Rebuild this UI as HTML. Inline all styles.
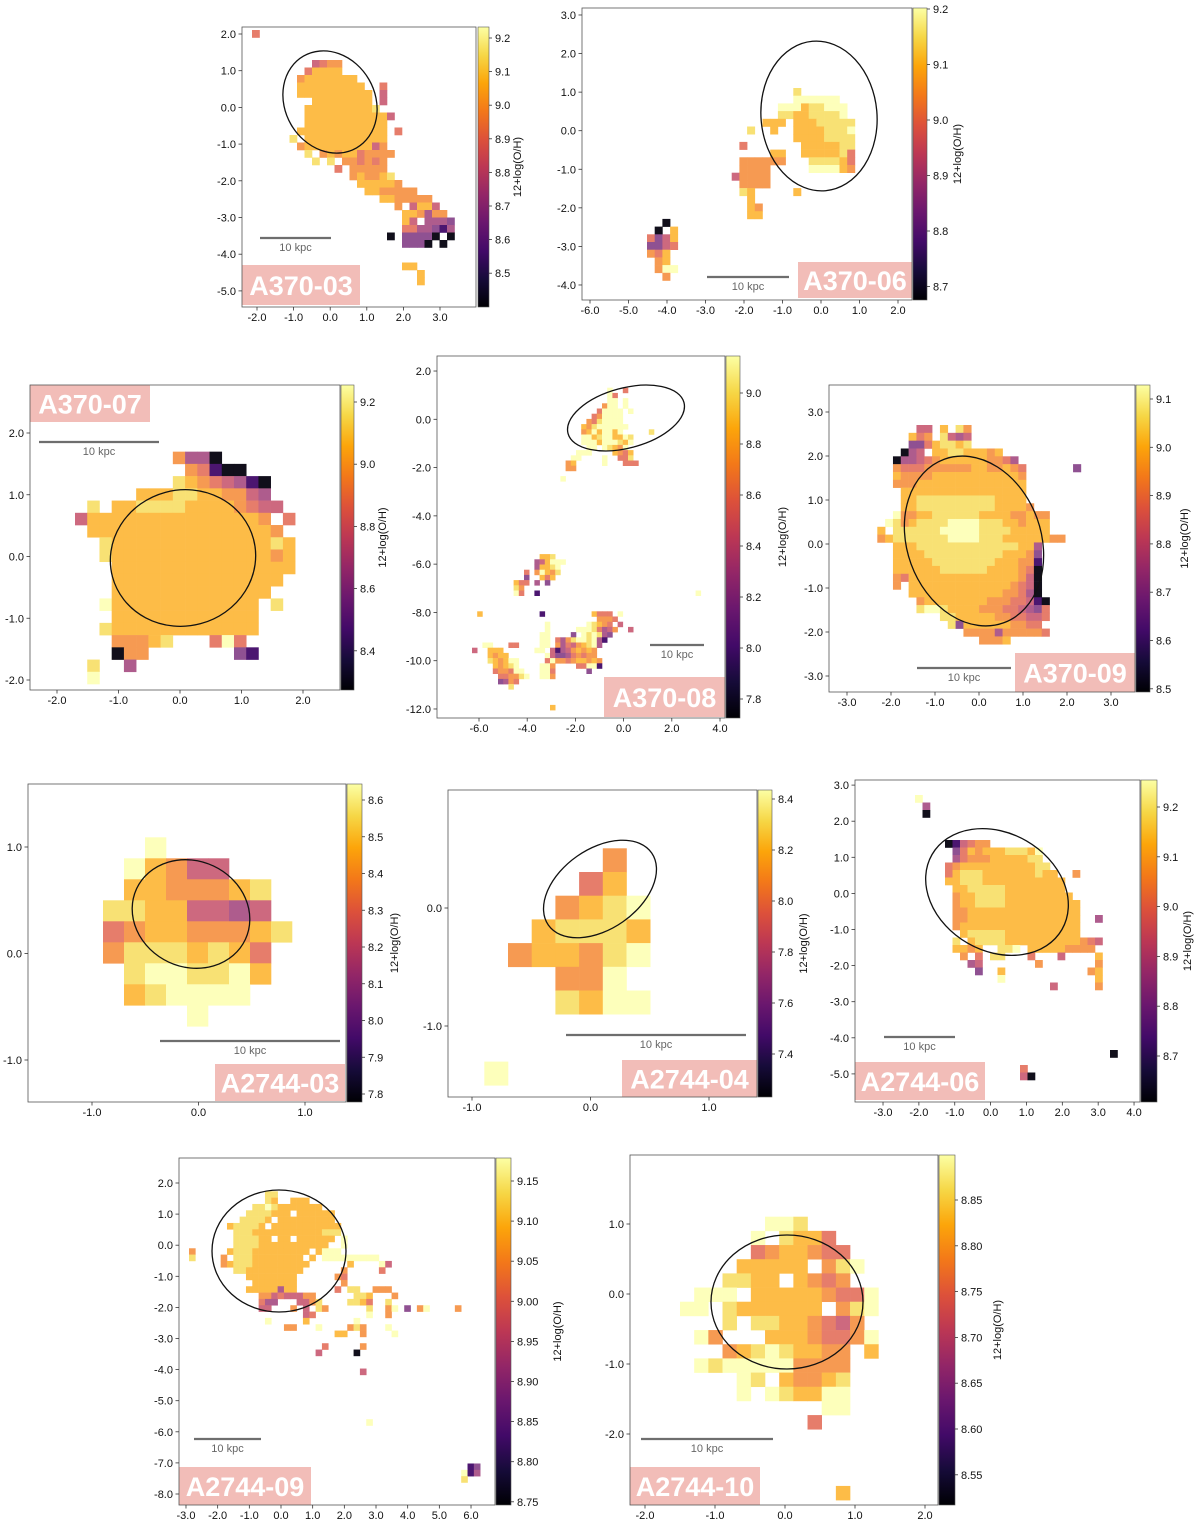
<!DOCTYPE html>
<html><head><meta charset="utf-8"><title>Metallicity maps</title>
<style>
html,body{margin:0;padding:0;background:#fff;}
svg{display:block;font-family:"Liberation Sans",sans-serif;}
</style></head>
<body>
<svg id="fig" width="1200" height="1532" viewBox="0 0 1200 1532" xmlns="http://www.w3.org/2000/svg">
<defs>
<linearGradient id="inferno" x1="0" y1="1" x2="0" y2="0">
<stop offset="0" stop-color="#000004"/><stop offset="0.1" stop-color="#160b39"/><stop offset="0.2" stop-color="#420a68"/><stop offset="0.3" stop-color="#6a176e"/><stop offset="0.4" stop-color="#932667"/><stop offset="0.5" stop-color="#bc3754"/><stop offset="0.6" stop-color="#dd513a"/><stop offset="0.7" stop-color="#f37819"/><stop offset="0.8" stop-color="#fca50a"/><stop offset="0.9" stop-color="#f6d746"/><stop offset="1" stop-color="#fcffa4"/>
</linearGradient>
</defs>
</svg>
<script>
// ---- data: pixel maps [row, startCol, levels] ('.'=empty, 0..9 colour level) ----
const cells_a370_03=[[0,0,"5"],[4,8,"4566"],[5,7,"57777"],[6,6,"67777777"],[7,6,"777777777..5"],[8,6,"7777777777.4"],[9,8,"77777777.4"],[10,7,"7777777778"],[11,7,"777777777774"],[12,7,"77777777777"],[13,6,"777777777777.5"],[14,5,"8.77777777777"],[15,6,"677777777746"],[16,7,"8.6767756666"],[17,8,"8.8.665656"],[18,11,"5.66666"],[19,13,"676678"],[20,14,"777776"],[21,15,"7766666"],[22,17,"7766666"],[23,19,"6.4774"],[24,20,"776366"],[25,20,"74.3332"],[26,20,"5533213"],[27,18,"0.22220.0"],[28,20,"2220.0"],[31,20,"77"],[32,22,"7"],[33,22,"7"]];
const cells_a370_06=[[0,19,"8"],[1,19,"999999"],[2,17,"999788999"],[3,17,"887788889"],[4,15,"777.77788888"],[5,13,"8..7..77778889"],[6,19,"77778888"],[7,12,"5.......7777788"],[8,16,"77..7777785"],[9,12,"666666...888875"],[10,12,"6666.....999976"],[11,11,"46666"],[12,12,"6666"],[13,12,"87.....7"],[14,13,"7"],[15,13,"76"],[16,13,"77"],[17,2,"0"],[18,1,"0.7"],[19,0,"5247"],[20,0,"2245"],[21,0,"657"],[22,1,"67"],[23,1,"699"],[24,2,"6"]];
const cells_a370_07=[[0,3,"5"],[5,8,"6330"],[6,9,"65100"],[7,8,"87654310"],[8,5,"77788776643"],[9,1,"8.77888877776544"],[10,0,"4777777777777776.5"],[11,1,"7777777777777776"],[12,2,"8777777777777787"],[13,2,"8777777777777767"],[14,3,"777777777777777"],[15,3,"77777777777777"],[16,3,"7777777777777"],[17,2,"9777777777777.8"],[18,3,"777777777777"],[19,2,"8777777777777"],[20,3,"66678...595"],[21,3,"066.......21"],[22,1,"8..3"],[23,1,"9"]];
const cells_a370_08=[[0,26,"9..5"],[1,26,"95"],[2,26,"99.9"],[3,25,"699.9"],[4,24,"59999.9"],[5,23,"569999"],[6,22,"6589999"],[7,21,"768999999"],[8,21,"67979979"],[8,34,"8"],[9,21,"9978997798"],[10,21,"9997999879"],[11,22,"99.98769"],[12,20,"999....7657"],[13,19,"99....9..558"],[14,18,"67.....9...555"],[15,18,"66"],[17,17,"9"],[32,13,"778"],[33,12,"347999"],[34,12,"37789"],[35,10,"5.69768"],[36,10,"2..757"],[37,8,"755.3.2"],[38,8,"86"],[39,8,"95..1"],[39,43,"9"],[43,1,"7"],[43,13,"1"],[43,23,"7555.9"],[44,24,"6665"],[45,14,"9.......98765.4"],[46,14,"9.....99985346..4"],[47,13,"99....2.989832"],[48,13,"99.5368998931"],[49,2,"99...55....99.635467893"],[50,0,"4..777......99.413467676"],[51,3,"7677"],[51,14,"9422356566"],[52,3,"876799"],[52,14,"59665677676"],[53,4,"76789"],[53,13,"996....55991"],[54,4,"566599"],[54,13,"995......2"],[55,5,"556689"],[55,13,"996"],[56,5,"2365"],[57,7,"8"],[61,15,"7"]];
const cells_a370_09=[[0,5,"44.7.86"],[1,4,"756.8434"],[2,4,"22578878"],[3,3,"034.778877767"],[4,2,"0334567777776653"],[5,2,"65556666667766765"],[5,25,"2"],[6,2,"76666777777777776"],[7,2,"66677777777777777"],[8,3,"7777777777777777"],[9,3,"7788888888887777"],[10,3,"77888888888877776"],[11,2,"96677888888777766766"],[12,1,"986788889999888776777"],[13,0,"7.88888899999888877777"],[14,0,"678888888999988877777766"],[15,2,"7778888888888888773"],[16,2,"7777888888888877762"],[17,2,"7777788888888777661"],[18,2,"7777778888887777650"],[19,2,"6577777777777777640"],[20,2,"6.77777777777776540"],[21,4,"77777777777766530"],[22,5,"67777777766655410"],[23,5,"89987777666554325"],[24,8,"88777776655445"],[25,9,"827777776655"],[26,11,"66663666665"],[27,13,"6667"]];
const cells_a2744_03=[[0,2,"9"],[1,1,"97644"],[2,1,"7766678"],[3,0,"88774434"],[4,0,"567766678"],[5,0,"68887875"],[6,1,"8998897"],[7,1,"789999"],[8,4,"9"]];
const cells_a2744_04=[[0,5,"6"],[1,4,"57"],[2,3,"6789"],[3,2,"78887"],[4,1,"677689"],[5,3,"669"],[6,3,"8799"],[9,0,"9"]];
const cells_a2744_06=[[0,0,"9"],[1,1,"3"],[2,1,"0"],[6,4,"014566"],[7,5,"257677788879"],[8,5,"356667777788"],[9,4,"56777777777788"],[10,4,"578887777777877..6"],[11,4,"7788877777777777"],[12,5,"778888877777777"],[13,5,"6778888777777777"],[14,5,"67788887777777777"],[15,5,"66777777777777777"],[16,5,"66777777777777777..3"],[17,5,"67777777777777777"],[18,6,"7888887777777777"],[19,5,"8.788887777777777654"],[20,5,"7767..889.777776666"],[21,6,"6.5.88...5...4....7"],[22,7,"34.......6.......6"],[23,8,"2..7...........67"],[24,11,"9............7"],[25,18,"4.....6"],[34,26,"0"],[36,14,"5"],[37,14,"40"]];
const cells_a2744_09=[[0,12,"88"],[1,12,"87..777"],[2,10,"88987777777"],[3,9,"8888777.777777"],[4,8,"88887.777777777"],[5,6,"788887.77777777777"],[6,7,"88877777777777888"],[7,7,"888877.77.777777.9"],[8,7,"888877777777777..9"],[9,0,"6.....7888777777777.7999"],[10,0,"8....6.88877777777.7.999999999"],[11,5,"67888777777777......7....94"],[12,7,"88777777777......6.....5"],[13,9,"77777777......65"],[14,10,"7777777.......6"],[15,9,"77777377......5.88..666"],[16,11,"664544466......887...6"],[17,11,"533...4468....8875..8"],[18,11,"44...6.4.86......8..69.2.69....6"],[19,18,"45........9..6"],[20,12,"9.....7.......9"],[21,15,"66...9....686...9"],[22,23,"77..6....9"],[24,21,"5.....6"],[25,20,"4.....0"],[28,27,"4"],[36,28,"9"],[43,44,"12"],[44,43,"913"],[45,43,"8"]];
const cells_a2744_10=[[0,6,"998"],[1,5,"9.8775"],[2,5,"5677655"],[3,4,"77777.689"],[4,3,"8877.7656"],[5,1,"999.777776559"],[6,0,"99.8777777.689"],[7,3,"8.88776546"],[8,1,"96...77765569"],[9,3,"678987766.7"],[10,1,"98999996666"],[11,4,"98.76678"],[12,4,"9.987799"],[13,10,"99"],[14,9,"5"],[19,11,"7"]];

// ---- tick values ----
const xt_a370_03=[-2,-1,0,1,2,3], yt_a370_03=[2,1,0,-1,-2,-3,-4,-5], cb_a370_03=[9.2,9.1,9.0,8.9,8.8,8.7,8.6,8.5];
const xt_a370_06=[-6,-5,-4,-3,-2,-1,0,1,2], yt_a370_06=[3,2,1,0,-1,-2,-3,-4], cb_a370_06=[9.2,9.1,9.0,8.9,8.8,8.7];
const xt_a370_07=[-2,-1,0,1,2], yt_a370_07=[2,1,0,-1,-2], cb_a370_07=[9.2,9.0,8.8,8.6,8.4];
const xt_a370_08=[-6,-4,-2,0,2,4], yt_a370_08=[2,0,-2,-4,-6,-8,-10,-12], cb_a370_08=[9.0,8.8,8.6,8.4,8.2,8.0,7.8];
const xt_a370_09=[-3,-2,-1,0,1,2,3], yt_a370_09=[3,2,1,0,-1,-2,-3], cb_a370_09=[9.1,9.0,8.9,8.8,8.7,8.6,8.5];
const xt_a2744_03=[-1,0,1], yt_a2744_03=[1,0,-1], cb_a2744_03=[8.6,8.5,8.4,8.3,8.2,8.1,8.0,7.9,7.8];
const xt_a2744_04=[-1,0,1], yt_a2744_04=[0,-1], cb_a2744_04=[8.4,8.2,8.0,7.8,7.6,7.4];
const xt_a2744_06=[-3,-2,-1,0,1,2,3,4], yt_a2744_06=[3,2,1,0,-1,-2,-3,-4,-5], cb_a2744_06=[9.2,9.1,9.0,8.9,8.8,8.7];
const xt_a2744_09=[-3,-2,-1,0,1,2,3,4,5,6], yt_a2744_09=[2,1,0,-1,-2,-3,-4,-5,-6,-7,-8], cb_a2744_09=[9.15,9.10,9.05,9.00,8.95,8.90,8.85,8.80,8.75];
const xt_a2744_10=[-2,-1,0,1,2], yt_a2744_10=[1,0,-1,-2], cb_a2744_10=[8.85,8.80,8.75,8.70,8.65,8.60,8.55];

// ---- layout ----
const panels=[
 {id:'a370-03',label:'A370-03',frame:[242,27,476,307],cbar:[478,27,489,307],xa:[330.2,36.6],ya:[107.4,36.7],xt:xt_a370_03,yt:yt_a370_03,cb:cb_a370_03,cbm:[9.2,38,336],dec:1,grid:[252,30,7.5],cells:cells_a370_03,ell:[330,102,45,53,-30],bar:[260,331,238],lab:[242,265,118,40],cbl:521},
 {id:'a370-06',label:'A370-06',frame:[582,8,912,300],cbar:[913,8,927,300],xa:[821,38.5],ya:[130.7,38.57],xt:xt_a370_06,yt:yt_a370_06,cb:cb_a370_06,cbm:[9.2,9,555],dec:1,grid:[647,88,7.7],cells:cells_a370_06,ell:[819,116,58,75,-5],bar:[707,789,277],lab:[798,262,114,36],cbl:961},
 {id:'a370-07',label:'A370-07',frame:[30,385,340,690],cbar:[341,385,354,690],xa:[180,61.5],ya:[556.5,61.75],xt:xt_a370_07,yt:yt_a370_07,cb:cb_a370_07,cbm:[9.2,402,311],dec:1,grid:[75,390.5,12.23],cells:cells_a370_07,ell:[183,558,73,68,-15],bar:[39,159,442],lab:[30,385,120,37],cbl:386},
 {id:'a370-08',label:'A370-08',frame:[437,356,725,718],cbar:[726,356,740,718],xa:[623.6,24.1],ya:[419.3,24.14],xt:xt_a370_08,yt:yt_a370_08,cb:cb_a370_08,cbm:[9.0,393,255],dec:1,grid:[472,387.7,5.2],cells:cells_a370_08,ell:[626,418,60,30,-15],bar:[650,704,645],lab:[604,677,121,40],cbl:786},
 {id:'a370-09',label:'A370-09',frame:[829,385,1135,692],cbar:[1136,385,1150,692],xa:[979,44],ya:[544,44],xt:xt_a370_09,yt:yt_a370_09,cb:cb_a370_09,cbm:[9.1,399,483],dec:1,grid:[877.3,425,7.83],cells:cells_a370_09,ell:[974,541,67,87,-20],bar:[917,1011,668],lab:[1015,653,120,39],cbl:1188},
 {id:'a2744-03',label:'A2744-03',frame:[28,784,346,1102],cbar:[347,784,362,1102],xa:[198.5,106.5],ya:[953.5,106.5],xt:xt_a2744_03,yt:yt_a2744_03,cb:cb_a2744_03,cbm:[8.6,800,367.5],dec:1,grid:[103,837.3,21],cells:cells_a2744_03,ell:[191,914,60,53,25],bar:[160,340,1041],lab:[215,1064,130,37],cbl:398},
 {id:'a2744-04',label:'A2744-04',frame:[448,790,757,1097],cbar:[758,790,772,1097],xa:[590.5,118.5],ya:[908,118],xt:xt_a2744_04,yt:yt_a2744_04,cb:cb_a2744_04,cbm:[8.4,799,255],dec:1,grid:[484.3,848.3,23.7],cells:cells_a2744_04,ell:[600,889,63,40,-35],bar:[566,746,1035],lab:[622,1060,135,37],cbl:807},
 {id:'a2744-06',label:'A2744-06',frame:[855,780,1140,1102],cbar:[1141,780,1157,1102],xa:[990.6,35.86],ya:[893.4,36.1],xt:xt_a2744_06,yt:yt_a2744_06,cb:cb_a2744_06,cbm:[9.2,807,498],dec:1,grid:[915,795,7.5],cells:cells_a2744_06,ell:[997,892,75,59,30],bar:[884,955,1037],lab:[855,1062,130,38],cbl:1191},
 {id:'a2744-09',label:'A2744-09',frame:[179,1158,495,1505],cbar:[496,1158,511,1505],xa:[281,31.67],ya:[1245.2,31.1],xt:xt_a2744_09,yt:yt_a2744_09,cb:cb_a2744_09,cbm:[9.15,1181,802],dec:2,grid:[189,1191.3,6.33],cells:cells_a2744_09,ell:[279,1251,67,61,0],bar:[194,261,1439],lab:[179,1467,132,38],cbl:561},
 {id:'a2744-10',label:'A2744-10',frame:[630,1155,938,1505],cbar:[939,1155,955,1505],xa:[785,70],ya:[1294,70],xt:xt_a2744_10,yt:yt_a2744_10,cb:cb_a2744_10,cbm:[8.85,1200,916],dec:2,grid:[680,1216.7,14.17],cells:cells_a2744_10,ell:[787,1302,76,67,0],bar:[641,773,1439],lab:[630,1467,130,38],cbl:1001}
];

const INF=[[0,0,0,4],[.1,22,11,57],[.2,66,10,104],[.3,106,23,110],[.4,147,38,103],[.5,188,55,84],[.6,221,81,58],[.7,243,120,25],[.8,252,165,10],[.9,246,215,70],[1,252,255,164]];
function inferno(t){
  t=Math.max(0,Math.min(1,t));
  for(let i=1;i<INF.length;i++){
    if(t<=INF[i][0]){const a=INF[i-1],b=INF[i],f=(t-a[0])/(b[0]-a[0]);
      return [0,1,2].map(k=>a[k+1]+(b[k+1]-a[k+1])*f);}
  }
  return INF[INF.length-1].slice(1);
}
function levelColor(L){
  const t=L===0?0.02:0.1+L*0.1;
  const c=inferno(t), w=L<=1?0.05:0.25;
  return 'rgb('+c.map(v=>Math.round(v*(1-w)+255*w)).join(',')+')';
}
const NS='http://www.w3.org/2000/svg';
const svg=document.getElementById('fig');
function make(tag,parent){const e=document.createElementNS(NS,tag);parent.appendChild(e);return e;}
function set(e,o){for(const k in o)e.setAttribute(k,o[k]);}

panels.forEach(p=>{
  const g=make('g',svg);
  
  
  const [fx0,fy0,fx1,fy1]=p.frame;
  const xs=v=>p.xa[0]+v*p.xa[1];
  const ys=v=>p.ya[0]-v*p.ya[1];
  const gx=c=>p.grid[0]+c*p.grid[2];
  const gy=r=>p.grid[1]+r*p.grid[2];
  const cbY=v=>p.cbm[1]+(p.cbm[0]-v)*p.cbm[2];
  const cs=p.grid[2];

  const pg=make('g',g);
  
  
  p.cells.forEach(seg=>{
    const [r,c0,s]=seg;
    for(let i=0;i<s.length;i++){
      const ch=s[i]; if(ch==='.') continue;
      const x=gx(c0+i), y=gy(r);
      if(x<fx0||x+cs>fx1+0.5||y<fy0||y+cs>fy1+0.5) continue;
      const el=make('rect',pg);
      
      
      set(el,{x:x.toFixed(2),y:y.toFixed(2),width:(cs+0.3).toFixed(2),height:(cs+0.3).toFixed(2),fill:levelColor(+ch)});
    }
  });

  const [ex,ey,erx,ery,rot]=p.ell;
  const el=make('ellipse',g);
  
  
  set(el,{cx:ex,cy:ey,rx:erx,ry:ery,transform:'rotate('+rot+' '+ex+' '+ey+')',fill:'none',stroke:'#111','stroke-width':1.3});

  const sb=make('line',g);
  
  
  set(sb,{x1:p.bar[0],x2:p.bar[1],y1:p.bar[2],y2:p.bar[2],stroke:'#6e6e6e','stroke-width':2.2});
  const sbt=make('text',g);
  
  
  set(sbt,{x:(p.bar[0]+p.bar[1])/2,y:p.bar[2]+13,'text-anchor':'middle','font-size':11,fill:'#666'});
  sbt.textContent='10 kpc';

  const lb=make('rect',g);
  
  
  set(lb,{x:p.lab[0],y:p.lab[1],width:p.lab[2],height:p.lab[3],fill:'#f2bdb8'});
  const lt=make('text',g);
  
  
  set(lt,{x:p.lab[0]+p.lab[2]/2,y:p.lab[1]+p.lab[3]/2+10,'text-anchor':'middle','font-size':27,'font-weight':'bold',fill:'#fff'});
  lt.textContent=p.label;

  const fr=make('rect',g);
  
  
  set(fr,{x:fx0,y:fy0,width:fx1-fx0,height:fy1-fy0,fill:'none',stroke:'#555','stroke-width':0.8});

  p.xt.forEach(v=>{
    const x=xs(v);
    const tk=make('line',g);
    
    
    set(tk,{x1:x,x2:x,y1:fy1,y2:fy1+3.5,stroke:'#333','stroke-width':0.8});
    const t=make('text',g);
    
    
    set(t,{x:x,y:fy1+14,'text-anchor':'middle','font-size':11,fill:'#111'});
    t.textContent=v.toFixed(1);
  });
  p.yt.forEach(v=>{
    const y=ys(v);
    const tk=make('line',g);
    
    
    set(tk,{x1:fx0-3.5,x2:fx0,y1:y,y2:y,stroke:'#333','stroke-width':0.8});
    const t=make('text',g);
    
    
    set(t,{x:fx0-6,y:y+4,'text-anchor':'end','font-size':11,fill:'#111'});
    t.textContent=v.toFixed(1);
  });

  const [cx0,cy0,cx1,cy1]=p.cbar;
  const cb=make('rect',g);
  
  
  set(cb,{x:cx0,y:cy0,width:cx1-cx0,height:cy1-cy0,fill:'url(#inferno)',stroke:'#555','stroke-width':0.6});
  p.cb.forEach(v=>{
    const y=cbY(v);
    const tk=make('line',g);
    
    
    set(tk,{x1:cx1,x2:cx1+3,y1:y,y2:y,stroke:'#333','stroke-width':0.8});
    const t=make('text',g);
    
    
    set(t,{x:cx1+6,y:y+4,'font-size':11,fill:'#111'});
    t.textContent=v.toFixed(p.dec);
  });
  const cl=make('text',g);
  
  
  const cly=(cy0+cy1)/2;
  set(cl,{x:p.cbl,y:cly,'text-anchor':'middle','font-size':11,fill:'#111',transform:'rotate(-90 '+p.cbl+' '+cly+')'});
  cl.textContent='12+log(O/H)';
});
</script>
</body></html>
